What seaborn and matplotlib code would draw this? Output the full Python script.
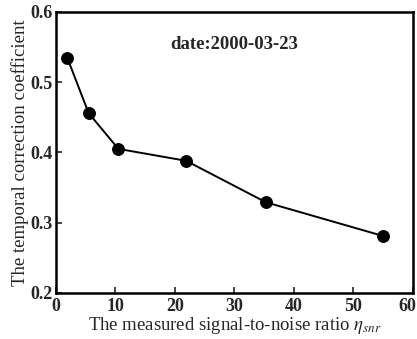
import matplotlib
matplotlib.use("Agg")
import matplotlib.pyplot as plt
import matplotlib.transforms as mtransforms
import seaborn as sns
import pandas as pd

snr = [1.9, 5.5, 10.5, 21.9, 35.3, 55.0]
coef = [0.535, 0.456, 0.405, 0.388, 0.329, 0.281]
x_ticks = [0, 10, 20, 30, 40, 50, 60]
y_ticks = [0.2, 0.3, 0.4, 0.5, 0.6]

sns.set_theme(style="ticks")
plt.rcParams['font.family'] = ['Liberation Serif', 'DejaVu Serif']
plt.rcParams['mathtext.fontset'] = 'stix'

df = pd.DataFrame({"snr": snr, "coef": coef})

fig = plt.figure(figsize=(4.17, 3.39), dpi=100)
ax = fig.add_axes([0.134, 0.136, 0.856, 0.829])
sns.lineplot(data=df, x="snr", y="coef", ax=ax, color="black", linewidth=1.4,
             marker="o", markersize=8.5, markeredgecolor="black", markerfacecolor="black")
ax.set_xlim(0, 60)
ax.set_ylim(0.2, 0.6)
ax.set_xticks(x_ticks)
ax.set_yticks(y_ticks)
ax.set_xticklabels([str(t) for t in x_ticks], fontsize=13, fontweight="bold")
ax.set_yticklabels([f"{t:.1f}" for t in y_ticks], fontsize=13, fontweight="bold")
ax.tick_params(axis="both", direction="in", length=4, width=1.2)
ax.tick_params(axis="x", pad=4)
ax.tick_params(axis="y", pad=2)
for s in ax.spines.values():
    s.set_linewidth(1.8)
    s.set_color("black")

# nudge last x tick label left so it stays inside the figure, as in the reference
last = ax.get_xticklabels()[-1]
last.set_transform(last.get_transform() + mtransforms.ScaledTranslation(-6 / 100, 0, fig.dpi_scale_trans))

ax.set_xlabel(r"The measured signal-to-noise ratio $\eta_{snr}$", fontsize=13.5, labelpad=0)
ax.set_ylabel("The temporal correction coefficient", fontsize=13.5, labelpad=1)
ax.text(0.5, 0.885, "date:2000-03-23", transform=ax.transAxes, ha="center", va="center",
        fontsize=13.5, fontweight="bold")
fig.savefig("out.png", dpi=100)
